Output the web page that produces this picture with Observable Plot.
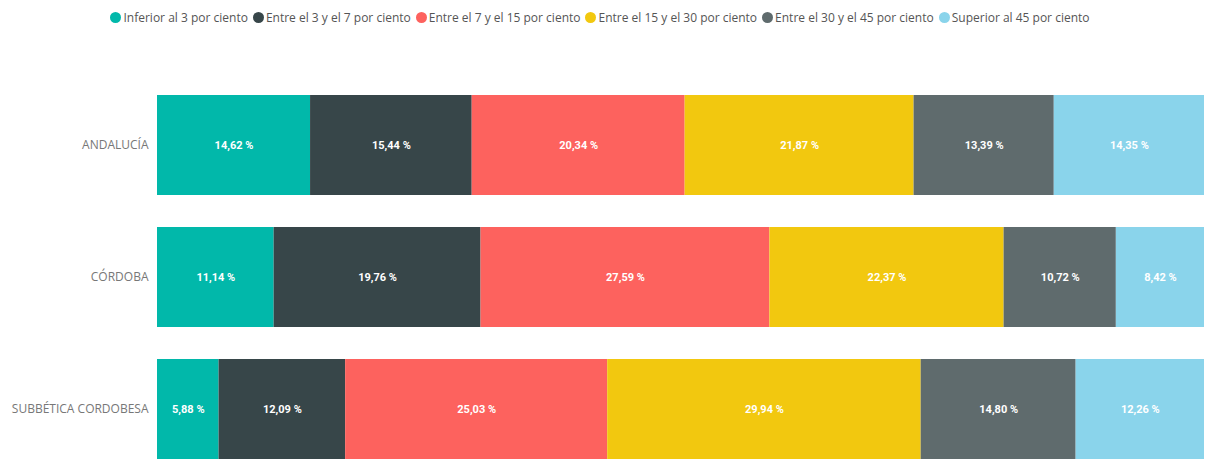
<!DOCTYPE html>
<html><head><meta charset="utf-8">
<script src="https://cdn.jsdelivr.net/npm/d3@7"></script>
<script src="https://cdn.jsdelivr.net/npm/@observablehq/plot@0.6"></script>
<style>
body{margin:0;background:#fff;font-family:"Open Sans",sans-serif;}
#legend{height:35px;display:flex;justify-content:center;align-items:center;font-size:12px;color:#555;box-sizing:border-box;}
#legend .it{display:flex;align-items:center;margin-right:5px;white-space:nowrap;}
#legend .sw{width:11px;height:11px;border-radius:50%;margin-right:2px;}
</style></head><body>
<div id="legend"></div>
<div id="chart"></div>
<script>
const categories = ["ANDALUCÍA", "CÓRDOBA", "SUBBÉTICA CORDOBESA"];
const series = ["Inferior al 3 por ciento", "Entre el 3 y el 7 por ciento", "Entre el 7 y el 15 por ciento", "Entre el 15 y el 30 por ciento", "Entre el 30 y el 45 por ciento", "Superior al 45 por ciento"];
const colors = ["#01B8AA", "#374649", "#FD625E", "#F2C80F", "#5F6B6D", "#8AD4EB"];
const andalucia = [14.62, 15.44, 20.34, 21.87, 13.39, 14.35];
const cordoba = [11.14, 19.76, 27.59, 22.37, 10.72, 8.42];
const subbetica = [5.88, 12.09, 25.03, 29.94, 14.80, 12.26];
const valuesByCat = [andalucia, cordoba, subbetica];

const data = [];
categories.forEach((c, i) => series.forEach((s, j) => data.push({cat: c, serie: s, value: valuesByCat[i][j]})));

const leg = document.getElementById("legend");
series.forEach((s, j) => {
  const it = document.createElement("div"); it.className = "it";
  const sw = document.createElement("div"); sw.className = "sw"; sw.style.background = colors[j];
  const t = document.createElement("span"); t.textContent = s;
  it.appendChild(sw); it.appendChild(t); leg.appendChild(it);
});

const fmt = v => v.toFixed(2).replace(".", ",") + " %";
const opts = {x: "value", y: "cat", z: "serie", order: series, offset: "normalize"};
const chart = Plot.plot({
  width: 1205,
  height: 439,
  marginLeft: 157,
  marginRight: 1,
  marginTop: 59,
  marginBottom: 14,
  style: {fontFamily: "Open Sans, sans-serif", background: "#fff"},
  x: {axis: null, domain: [0, 1]},
  y: {domain: categories, paddingInner: 0.243, paddingOuter: 0, axis: null},
  color: {domain: series, range: colors},
  marks: [
    Plot.axisY({tickSize: 0, tickPadding: 9, fontSize: 12, color: "#777", label: null}),
    Plot.barX(data, Plot.stackX({...opts, fill: "serie"})),
    Plot.text(data, Plot.stackX({...opts, text: d => fmt(d.value), fill: "#fff", fontWeight: "bold", fontSize: 11, fontFamily: "Roboto, sans-serif"})),
  ]
});
document.getElementById("chart").appendChild(chart);
</script>
</body></html>
